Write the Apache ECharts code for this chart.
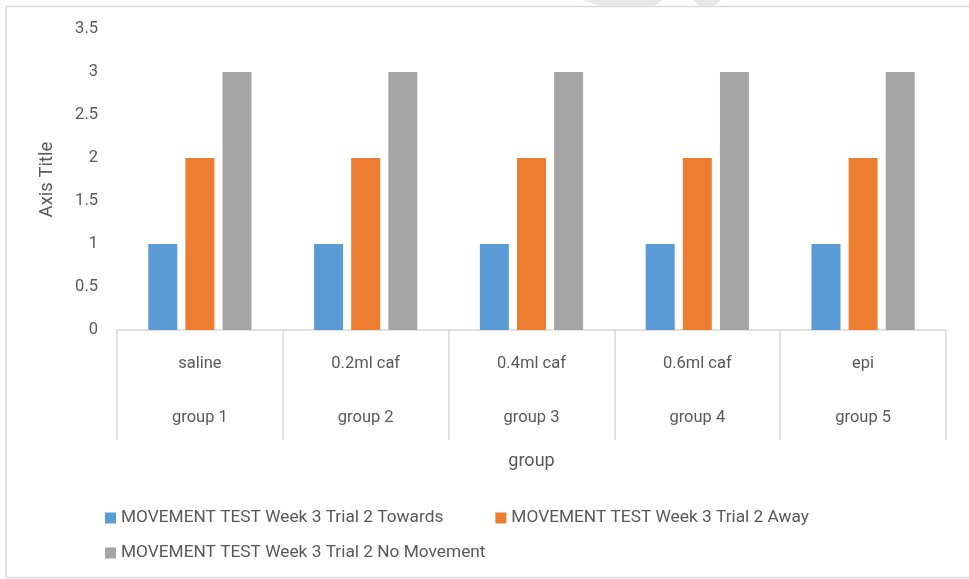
<!DOCTYPE html>
<html>

<head>
    <script src="https://cdn.jsdelivr.net/npm/echarts@6/dist/echarts.min.js"></script>
</head>
<style type="text/css">
    body {
        margin: 0;
    }

    #main {
        width: 969px;
        height: 579px;
    }
</style>

<body>
    <div id="main"></div>
</body>

</html>

<script type="text/javascript">
    let groups = ['group 1', 'group 2', 'group 3', 'group 4', 'group 5']
    let treatments = ['saline', '0.2ml caf', '0.4ml caf', '0.6ml caf', 'epi']
    let seriesNames = [
        'MOVEMENT TEST Week 3 Trial 2 Towards',
        'MOVEMENT TEST Week 3 Trial 2 Away',
        'MOVEMENT TEST Week 3 Trial 2 No Movement'
    ]
    let towards = [1, 1, 1, 1, 1]
    let away = [2, 2, 2, 2, 2]
    let noMovement = [3, 3, 3, 3, 3]
    let colors = ['#5b9bd5', '#ed7d31', '#a5a5a5']

    let font = 'Roboto'
    let textColor = '#595959'
    let lineColor = '#d9d9d9'

    // two label rows per category: treatment on top, group underneath
    let xLabels = treatments.map((t, i) => t + '\n\n' + groups[i])

    let myChart = echarts.init(document.getElementById('main'))

    let option = {
        animation: false,
        textStyle: { fontFamily: font },
        grid: {
            left: 117,
            right: 23,
            top: 29,
            bottom: 249
        },
        legend: [
            {
                data: [seriesNames[0], seriesNames[1]],
                left: 100,
                top: 499,
                icon: 'rect',
                itemWidth: 11,
                itemHeight: 11,
                itemGap: 52,
                textStyle: { color: textColor, fontSize: 17.3, fontFamily: font }
            },
            {
                data: [seriesNames[2]],
                left: 100,
                top: 534,
                icon: 'rect',
                itemWidth: 11,
                itemHeight: 11,
                textStyle: { color: textColor, fontSize: 17.3, fontFamily: font }
            }
        ],
        xAxis: {
            type: 'category',
            data: xLabels,
            name: 'group',
            nameLocation: 'middle',
            nameGap: 117,
            nameMoveOverlap: false,
            nameTextStyle: { color: textColor, fontSize: 18 },
            axisLine: { lineStyle: { color: lineColor, width: 1.5 } },
            axisTick: { show: true, length: 110, lineStyle: { color: lineColor, width: 1.5 } },
            axisLabel: {
                color: textColor,
                fontSize: 16.5,
                lineHeight: 27,
                margin: 20
            }
        },
        yAxis: {
            type: 'value',
            min: 0,
            max: 3.5,
            interval: 0.5,
            name: 'Axis Title',
            nameLocation: 'middle',
            nameGap: 55,
            nameMoveOverlap: false,
            nameTextStyle: { color: textColor, fontSize: 18.5 },
            axisLine: { show: false },
            axisTick: { show: false },
            splitLine: { show: false },
            axisLabel: { color: textColor, fontSize: 16.5, margin: 19 }
        },
        series: [
            { name: seriesNames[0], type: 'bar', data: towards, barWidth: 29, barGap: '28%', itemStyle: { color: colors[0] } },
            { name: seriesNames[1], type: 'bar', data: away, barWidth: 29, barGap: '28%', itemStyle: { color: colors[1] } },
            { name: seriesNames[2], type: 'bar', data: noMovement, barWidth: 29, barGap: '28%', itemStyle: { color: colors[2] } }
        ],
        graphic: [
            {
                type: 'rect',
                shape: { x: 6, y: 6.5, width: 1000, height: 571 },
                style: { fill: 'none', stroke: lineColor, lineWidth: 1.5 },
                silent: true
            },
            {
                type: 'polygon',
                shape: { points: [[582, 0], [662, 0], [655, 6], [600, 6]] },
                style: { fill: '#e8e8e8' },
                silent: true
            },
            {
                type: 'polygon',
                shape: { points: [[693, 0], [721, 0], [714, 6], [700, 6]] },
                style: { fill: '#e8e8e8' },
                silent: true
            }
        ]
    }

    myChart.setOption(option)
</script>
